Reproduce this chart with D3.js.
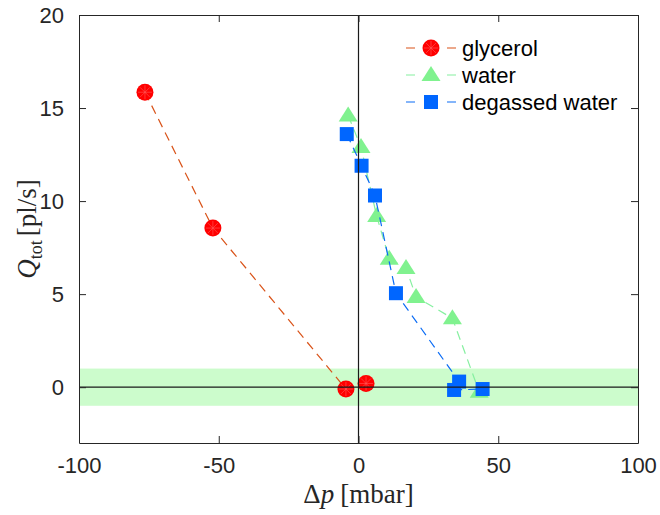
<!DOCTYPE html>
<html>
<head>
<meta charset="utf-8">
<script src="https://cdn.jsdelivr.net/npm/d3@7"></script>
<style>
  body { margin: 0; background: #fff; }
  svg { display: block; }
</style>
</head>
<body>
<div id="chart"></div>
<script>
// values
const glycerolX = [-76.4, -52.1, -4.5, 2.7];
const glycerolY = [15.85, 8.55, -0.1, 0.2];
const waterX = [-3.7, 0.9, 6.5, 11.0, 17.0, 20.6, 33.6, 43.2];
const waterY = [14.6, 12.9, 9.2, 6.9, 6.4, 4.85, 3.7, -0.25];
const degassedX = [-4.2, 1.1, 5.9, 13.4, 36.0, 34.2, 44.4];
const degassedY = [13.6, 11.9, 10.3, 5.05, 0.3, -0.15, -0.1];
const seriesNames = ['glycerol', 'water', 'degassed water'];
const xTicks = [-100, -50, 0, 50, 100];
const yTicks = [0, 5, 10, 15, 20];
const bandLimits = [-1, 1];

const width = 660;
const height = 515;
const margin = { top: 15, right: 22, bottom: 72, left: 79 };
const axisColor = '#262626';
const tickFont = '"Liberation Sans", Arial, Helvetica, sans-serif';
const labelFont = '"Liberation Serif", "Times New Roman", serif';

const svg = d3.select('#chart')
    .append('svg')
    .attr('width', width)
    .attr('height', height);

const x = d3.scaleLinear()
    .domain([-100, 100])
    .range([margin.left, width - margin.right]);

const y = d3.scaleLinear()
    .domain([-3, 20])
    .range([height - margin.bottom, margin.top]);

// shaded band around zero
svg.append('rect')
    .attr('x', x(-100))
    .attr('y', y(bandLimits[1]))
    .attr('width', x(100) - x(-100))
    .attr('height', y(bandLimits[0]) - y(bandLimits[1]))
    .style('fill', '#ccfccc');

const series = [
    { name: seriesNames[0], xs: glycerolX, ys: glycerolY, line: '#d95319', fill: '#ff0000', shape: 'circle' },
    { name: seriesNames[1], xs: waterX, ys: waterY, line: '#86f0a0', fill: '#80f28f', shape: 'triangle' },
    { name: seriesNames[2], xs: degassedX, ys: degassedY, line: '#0b6cf5', fill: '#0066ff', shape: 'square' }
];

function drawMarker(g, shape, cx, cy, fill) {
    if (shape === 'circle') {
        g.append('circle')
            .attr('cx', cx).attr('cy', cy).attr('r', 8.5)
            .style('fill', fill);
        // faint asterisk over the dot
        for (let a = 0; a < 180; a += 45) {
            const r = a * Math.PI / 180;
            g.append('line')
                .attr('x1', cx - 7 * Math.cos(r)).attr('y1', cy - 7 * Math.sin(r))
                .attr('x2', cx + 7 * Math.cos(r)).attr('y2', cy + 7 * Math.sin(r))
                .style('stroke', '#ff5a5a')
                .style('stroke-width', 0.6);
        }
    } else if (shape === 'triangle') {
        g.append('path')
            .attr('d', `M${cx},${cy - 9}L${cx + 9.5},${cy + 6}L${cx - 9.5},${cy + 6}Z`)
            .style('fill', fill);
    } else {
        g.append('rect')
            .attr('x', cx - 7).attr('y', cy - 7)
            .attr('width', 14).attr('height', 14)
            .style('fill', fill);
    }
}

const line = d3.line()
    .x(d => x(d[0]))
    .y(d => y(d[1]));

series.forEach(s => {
    const pts = s.xs.map((v, i) => [v, s.ys[i]]);
    const g = svg.append('g');
    g.append('path')
        .attr('d', line(pts))
        .style('fill', 'none')
        .style('stroke', s.line)
        .style('stroke-width', 1.2)
        .style('stroke-dasharray', '9,6');
    pts.forEach(p => drawMarker(g, s.shape, x(p[0]), y(p[1]), s.fill));
});

// zero lines
svg.append('line')
    .attr('x1', x(-100)).attr('x2', x(100))
    .attr('y1', y(0)).attr('y2', y(0))
    .style('stroke', '#1a1a1a').style('stroke-width', 1.2);
svg.append('line')
    .attr('x1', x(0)).attr('x2', x(0))
    .attr('y1', y(-3)).attr('y2', y(20))
    .style('stroke', '#1a1a1a').style('stroke-width', 1.2);

// plain hyphen for negatives, like the original
const plainFormat = d => String(d);

// axes, ticks pointing inward on all four sides
const tickLen = 7;
svg.append('g')
    .attr('class', 'x-axis')
    .attr('transform', `translate(0,${y(-3)})`)
    .call(d3.axisBottom(x).tickValues(xTicks).tickSizeInner(-tickLen).tickSizeOuter(0).tickPadding(14).tickFormat(plainFormat));
svg.append('g')
    .attr('class', 'x-top')
    .attr('transform', `translate(0,${y(20)})`)
    .call(d3.axisTop(x).tickValues(xTicks).tickSizeInner(-tickLen).tickSizeOuter(0).tickFormat(''));
svg.append('g')
    .attr('class', 'y-axis')
    .attr('transform', `translate(${x(-100)},0)`)
    .call(d3.axisLeft(y).tickValues(yTicks).tickSizeInner(-tickLen).tickSizeOuter(0).tickPadding(15).tickFormat(plainFormat));
svg.append('g')
    .attr('class', 'y-right')
    .attr('transform', `translate(${x(100)},0)`)
    .call(d3.axisRight(y).tickValues(yTicks).tickSizeInner(-tickLen).tickSizeOuter(0).tickFormat(''));

svg.selectAll('.domain, .tick line')
    .style('stroke', axisColor)
    .style('stroke-width', 1);
svg.selectAll('.tick text')
    .style('font-family', tickFont)
    .style('font-size', '22px')
    .style('fill', axisColor);

// axis labels
svg.append('text')
    .attr('x', x(0))
    .attr('y', 503)
    .attr('text-anchor', 'middle')
    .style('font-family', labelFont)
    .style('font-size', '27px')
    .style('fill', axisColor)
    .call(t => {
        t.append('tspan').text('Δ');
        t.append('tspan').style('font-style', 'italic').text('p');
        t.append('tspan').attr('dx', 6).text('[mbar]');
    });

svg.append('text')
    .attr('transform', `translate(36,${(y(-3) + y(20)) / 2}) rotate(-90)`)
    .attr('text-anchor', 'middle')
    .style('font-family', labelFont)
    .style('font-size', '27px')
    .style('fill', axisColor)
    .call(t => {
        t.append('tspan').style('font-style', 'italic').text('Q');
        t.append('tspan').attr('dy', 6).style('font-size', '18px').text('tot');
        t.append('tspan').attr('dy', -6).attr('dx', 4).text('[pl/s]');
    });

// legend
const legend = svg.append('g').attr('class', 'legend');
series.forEach((s, i) => {
    const ly = 48 + i * 27;
    const row = legend.append('g');
    row.append('line')
        .attr('x1', 406).attr('x2', 456)
        .attr('y1', ly).attr('y2', ly)
        .style('stroke', s.line)
        .style('stroke-width', 1.2)
        .style('stroke-dasharray', '9,32,9');
    drawMarker(row, s.shape, 431, ly, s.fill);
    row.append('text')
        .attr('x', 462)
        .attr('y', ly + 8)
        .style('font-family', tickFont)
        .style('font-size', '22px')
        .style('fill', '#000')
        .text(s.name);
});
</script>
</body>
</html>
